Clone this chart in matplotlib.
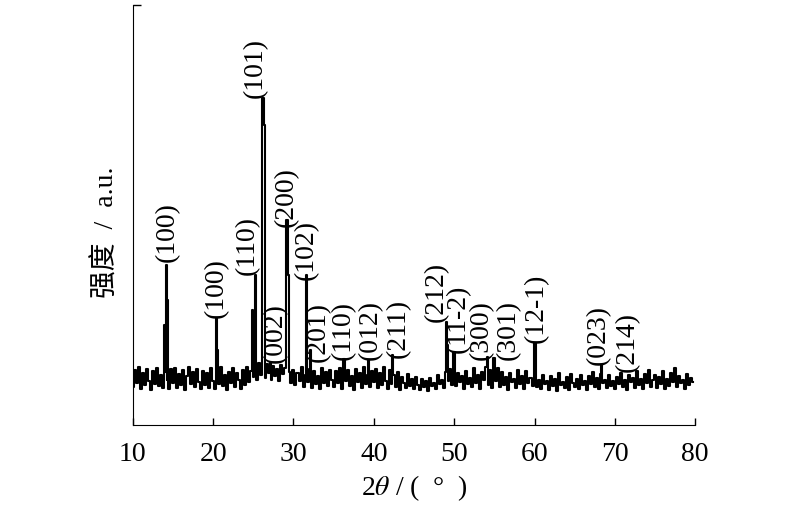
import matplotlib
matplotlib.use('Agg')
import matplotlib.pyplot as plt
import numpy as np
import pandas as pd

plt.rcParams['font.family'] = ['Liberation Serif', 'Noto Sans CJK SC', 'DejaVu Sans']
plt.rcParams['mathtext.fontset'] = 'stix'

# baseline noise, one value every 0.25 deg from 10.0
two_theta_start = 10.0
two_theta_step = 0.25
baseline = [
    38, 55, 42, 58, 36, 52, 40, 56, 44, 35, 54, 41, 57, 39, 50, 37, 53, 45, 36, 56,
    42, 57, 37, 51, 40, 55, 35, 49, 58, 41, 53, 38, 56, 43, 36, 54, 40, 52, 37, 57,
    44, 36, 55, 41, 58, 39, 50, 35, 53, 42, 57, 38, 52, 45, 36, 55, 40, 58, 43, 54,
    48, 60, 45, 62, 50, 58, 47, 61, 52, 45, 59, 49, 56, 44, 60, 51, 57, 46, 53, 42,
    55, 40, 52, 44, 58, 38, 50, 43, 56, 37, 54, 41, 49, 36, 57, 42, 53, 39, 55, 45,
    38, 54, 42, 57, 36, 51, 44, 55, 39, 49, 35, 56, 43, 52, 37, 58, 41, 50, 38, 54,
    43, 56, 37, 52, 40, 58, 44, 36, 55, 41, 50, 38, 53, 35, 48, 42, 37, 51, 39, 46,
    36, 48, 40, 35, 46, 38, 44, 34, 47, 39, 42, 36, 50, 41, 45, 37, 53, 44, 56, 40,
    55, 39, 52, 43, 49, 36, 54, 41, 47, 38, 57, 42, 50, 36, 53, 45, 58, 40, 55, 37,
    51, 44, 57, 38, 53, 40, 48, 35, 52, 43, 46, 37, 55, 41, 49, 36, 54, 42, 47, 39,
    53, 38, 45, 36, 50, 41, 44, 35, 49, 39, 46, 34, 52, 40, 43, 37, 48, 35, 51, 42,
    38, 46, 36, 50, 40, 44, 35, 49, 41, 53, 38, 47, 36, 51, 42, 45, 37, 50, 39, 44,
    36, 48, 41, 52, 38, 45, 35, 50, 43, 47, 37, 53, 40, 46, 36, 51, 42, 55, 38, 45,
    50, 37, 48, 41, 54, 36, 46, 39, 52, 43, 57, 38, 49, 42, 45, 36, 51, 40, 47, 43,
]

# diffraction peaks (position, intensity)
peak_pos = [13.9, 14.2, 14.35, 20.45, 20.55, 24.9, 25.05, 25.25, 26.25, 26.35,
            27.1, 29.25, 29.4, 31.6, 31.7, 32.1, 36.25, 39.4, 42.3, 49.05,
            49.15, 50.0, 54.2, 55.0, 60.0, 68.3, 72.75]
peak_int = [100, 160, 125, 107, 75, 115, 95, 150, 327, 300,
            62, 205, 150, 150, 120, 75, 66, 65, 70, 103,
            80, 73, 68, 67, 82, 60, 54]

# Miller index labels
hkl_text = ['(100)', '(100)', '(110)', '(101)', '(002)', '(200)', '(102)', '(201)',
            '(110)', '(012)', '(211)', '(212)', '(11-2)', '(300)', '(301)',
            '(12-1)', '(023)', '(214)']
hkl_x = [14.3, 20.35, 24.3, 25.2, 27.7, 29.1, 31.6, 33.1, 36.25, 39.6, 43.0,
         47.75, 50.5, 53.4, 56.7, 60.25, 68.0, 71.5]
hkl_y = [163, 107, 150, 327, 62, 198, 145, 63, 65, 65, 67, 103, 72, 65, 65,
         82, 60, 53]

grid = two_theta_start + two_theta_step * np.arange(len(baseline))
spectrum = pd.Series(peak_int, index=peak_pos, dtype=float).combine_first(
    pd.Series(baseline, index=grid, dtype=float))

fig = plt.figure(figsize=(8, 5.12), dpi=100)
ax = fig.add_axes([0.166, 0.170, 0.703, 0.820])

ax.plot(spectrum.index, spectrum.values, color='black', lw=1.5,
        drawstyle='steps-mid')

for txt, x, y in zip(hkl_text, hkl_x, hkl_y):
    ax.text(x, y, txt, rotation=90, ha='center', va='bottom', fontsize=20)

ax.set_xlim(10, 80)
ax.set_ylim(0, 420)
ax.set_xticks(range(10, 81, 10))
ax.set_yticks([420])
ax.set_yticklabels([])
ax.tick_params(axis='x', direction='in', length=5, width=1, labelsize=20, pad=12)
ax.tick_params(axis='y', direction='in', length=6, width=1)
ax.spines['top'].set_visible(False)
ax.spines['right'].set_visible(False)

ax.set_xlabel('2$\\mathit{\\theta}$ / (  °  )', fontsize=20, labelpad=5)
ax.set_ylabel('强度  /  a.u.', fontsize=20)
ax.yaxis.set_label_coords(-0.024, 0.46)

fig.savefig('out.png', dpi=100)
